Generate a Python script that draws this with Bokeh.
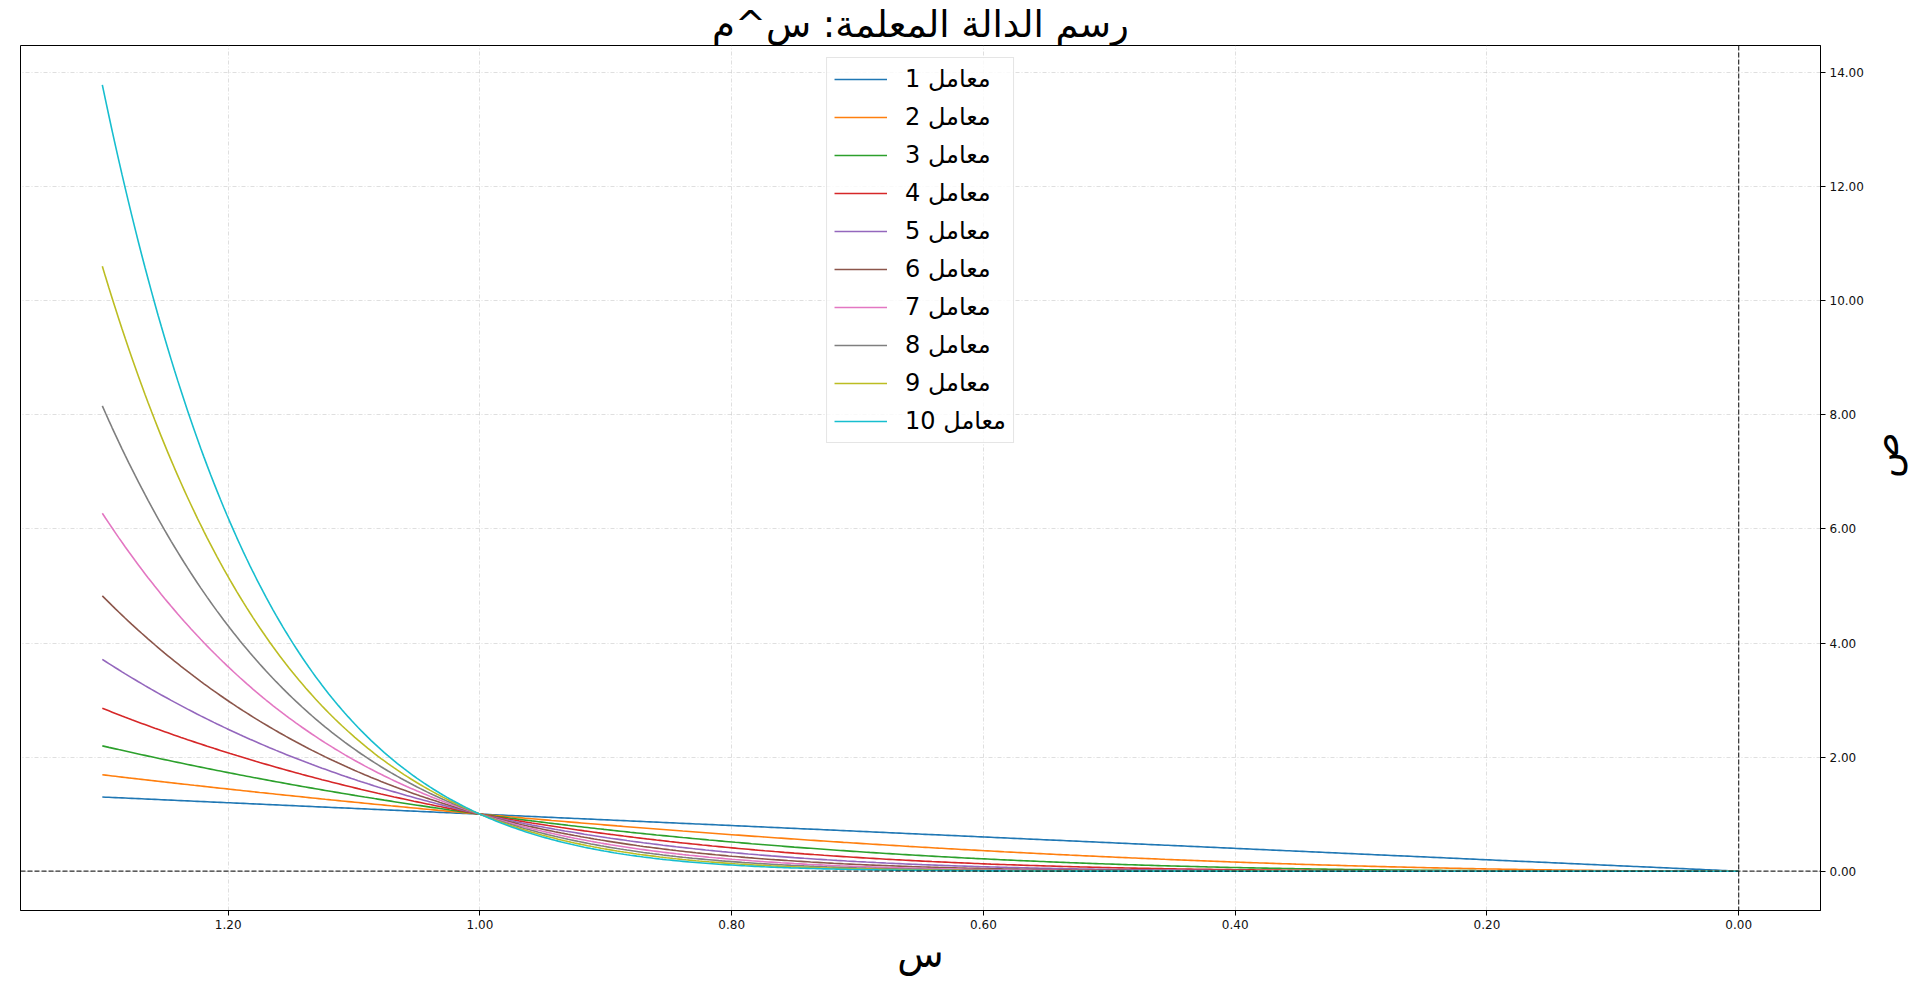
import math
import numpy as np
from bokeh.plotting import figure
from bokeh.models import Range1d, Span, Legend, LegendItem, FixedTicker, PrintfTickFormatter
from bokeh.embed import file_html
from bokeh.resources import INLINE

# ---- data ----
exponents = [1, 2, 3, 4, 5, 6, 7, 8, 9, 10]
labels = ["معامل %d" % m for m in exponents]
x_start, x_end = 0.0, 1.3
x_ticks = [0.0, 0.2, 0.4, 0.6, 0.8, 1.0, 1.2]
y_ticks = [0, 2, 4, 6, 8, 10, 12, 14]
colors = ["#1f77b4", "#ff7f0e", "#2ca02c", "#d62728", "#9467bd",
          "#8c564b", "#e377c2", "#7f7f7f", "#bcbd22", "#17becf"]
title_text = "رسم الدالة المعلمة: س^م"
x_label = "س"
y_label = "ص"

xs = np.linspace(x_start, x_end, 500)
ymax = x_end ** max(exponents)
xm = (x_end - x_start) * 0.05
ym = ymax * 0.05

FONT = "DejaVu Sans"

p = figure(frame_width=1800, frame_height=865,
           x_range=Range1d(x_end + xm, x_start - xm),
           y_range=Range1d(-ym, ymax + ym),
           y_axis_location="right",
           output_backend="svg", toolbar_location=None,
           min_border_left=20, min_border_right=80,
           min_border_top=0, min_border_bottom=50)

p.title.text = title_text
p.title.text_font = FONT
p.title.text_font_size = "37px"
p.title.text_font_style = "normal"
p.title.text_color = "black"
p.title.align = "center"
p.title.standoff = 0
p.title.offset = 0

p.outline_line_color = "black"
p.outline_line_alpha = 1
p.outline_line_width = 1

for ax in (p.xaxis[0], p.yaxis[0]):
    ax.major_label_text_font = FONT
    ax.major_label_text_font_size = "12px"
    ax.major_label_text_color = "#111111"
    ax.axis_line_color = "black"
    ax.major_tick_line_color = "black"
    ax.major_tick_out = 5
    ax.major_tick_in = 0
    ax.minor_tick_line_color = None
    ax.major_label_standoff = 4
    ax.formatter = PrintfTickFormatter(format="%.2f")
    ax.axis_label_text_font = FONT
    ax.axis_label_text_font_size = "38px"
    ax.axis_label_text_font_style = "normal"
    ax.axis_label_text_color = "black"

p.xaxis[0].ticker = FixedTicker(ticks=x_ticks)
p.yaxis[0].ticker = FixedTicker(ticks=y_ticks)
p.xaxis[0].axis_label = x_label
p.yaxis[0].axis_label = y_label
p.xaxis[0].axis_label_standoff = 0
p.yaxis[0].axis_label_standoff = 18
p.yaxis[0].axis_label_orientation = math.pi / 2

for g in (p.xgrid[0], p.ygrid[0]):
    g.grid_line_color = "#b0b0b0"
    g.grid_line_alpha = 0.5
    g.grid_line_dash = "4 2 1 2"
    g.grid_line_width = 0.8

p.add_layout(Span(location=0, dimension="width", line_color="black",
                  line_alpha=0.8, line_dash="5 2", line_width=1.2))
p.add_layout(Span(location=0, dimension="height", line_color="black",
                  line_alpha=0.8, line_dash="5 2", line_width=1.2))

items = []
for m, lab, c in zip(exponents, labels, colors):
    r = p.line(xs, xs ** m, line_color=c, line_width=1.6)
    items.append(LegendItem(label=lab, renderers=[r]))

leg = Legend(items=items, location="top_center")
leg.label_text_font = FONT
leg.label_text_font_size = "24px"
leg.label_text_color = "black"
leg.glyph_width = 53
leg.glyph_height = 24
leg.label_height = 24
leg.label_standoff = 18
leg.spacing = 10
leg.padding = 7
leg.margin = 12
leg.border_line_color = "#cccccc"
leg.border_line_width = 1
leg.background_fill_alpha = 0.8
p.add_layout(leg)

open("out.html", "w").write(file_html(p, INLINE))
